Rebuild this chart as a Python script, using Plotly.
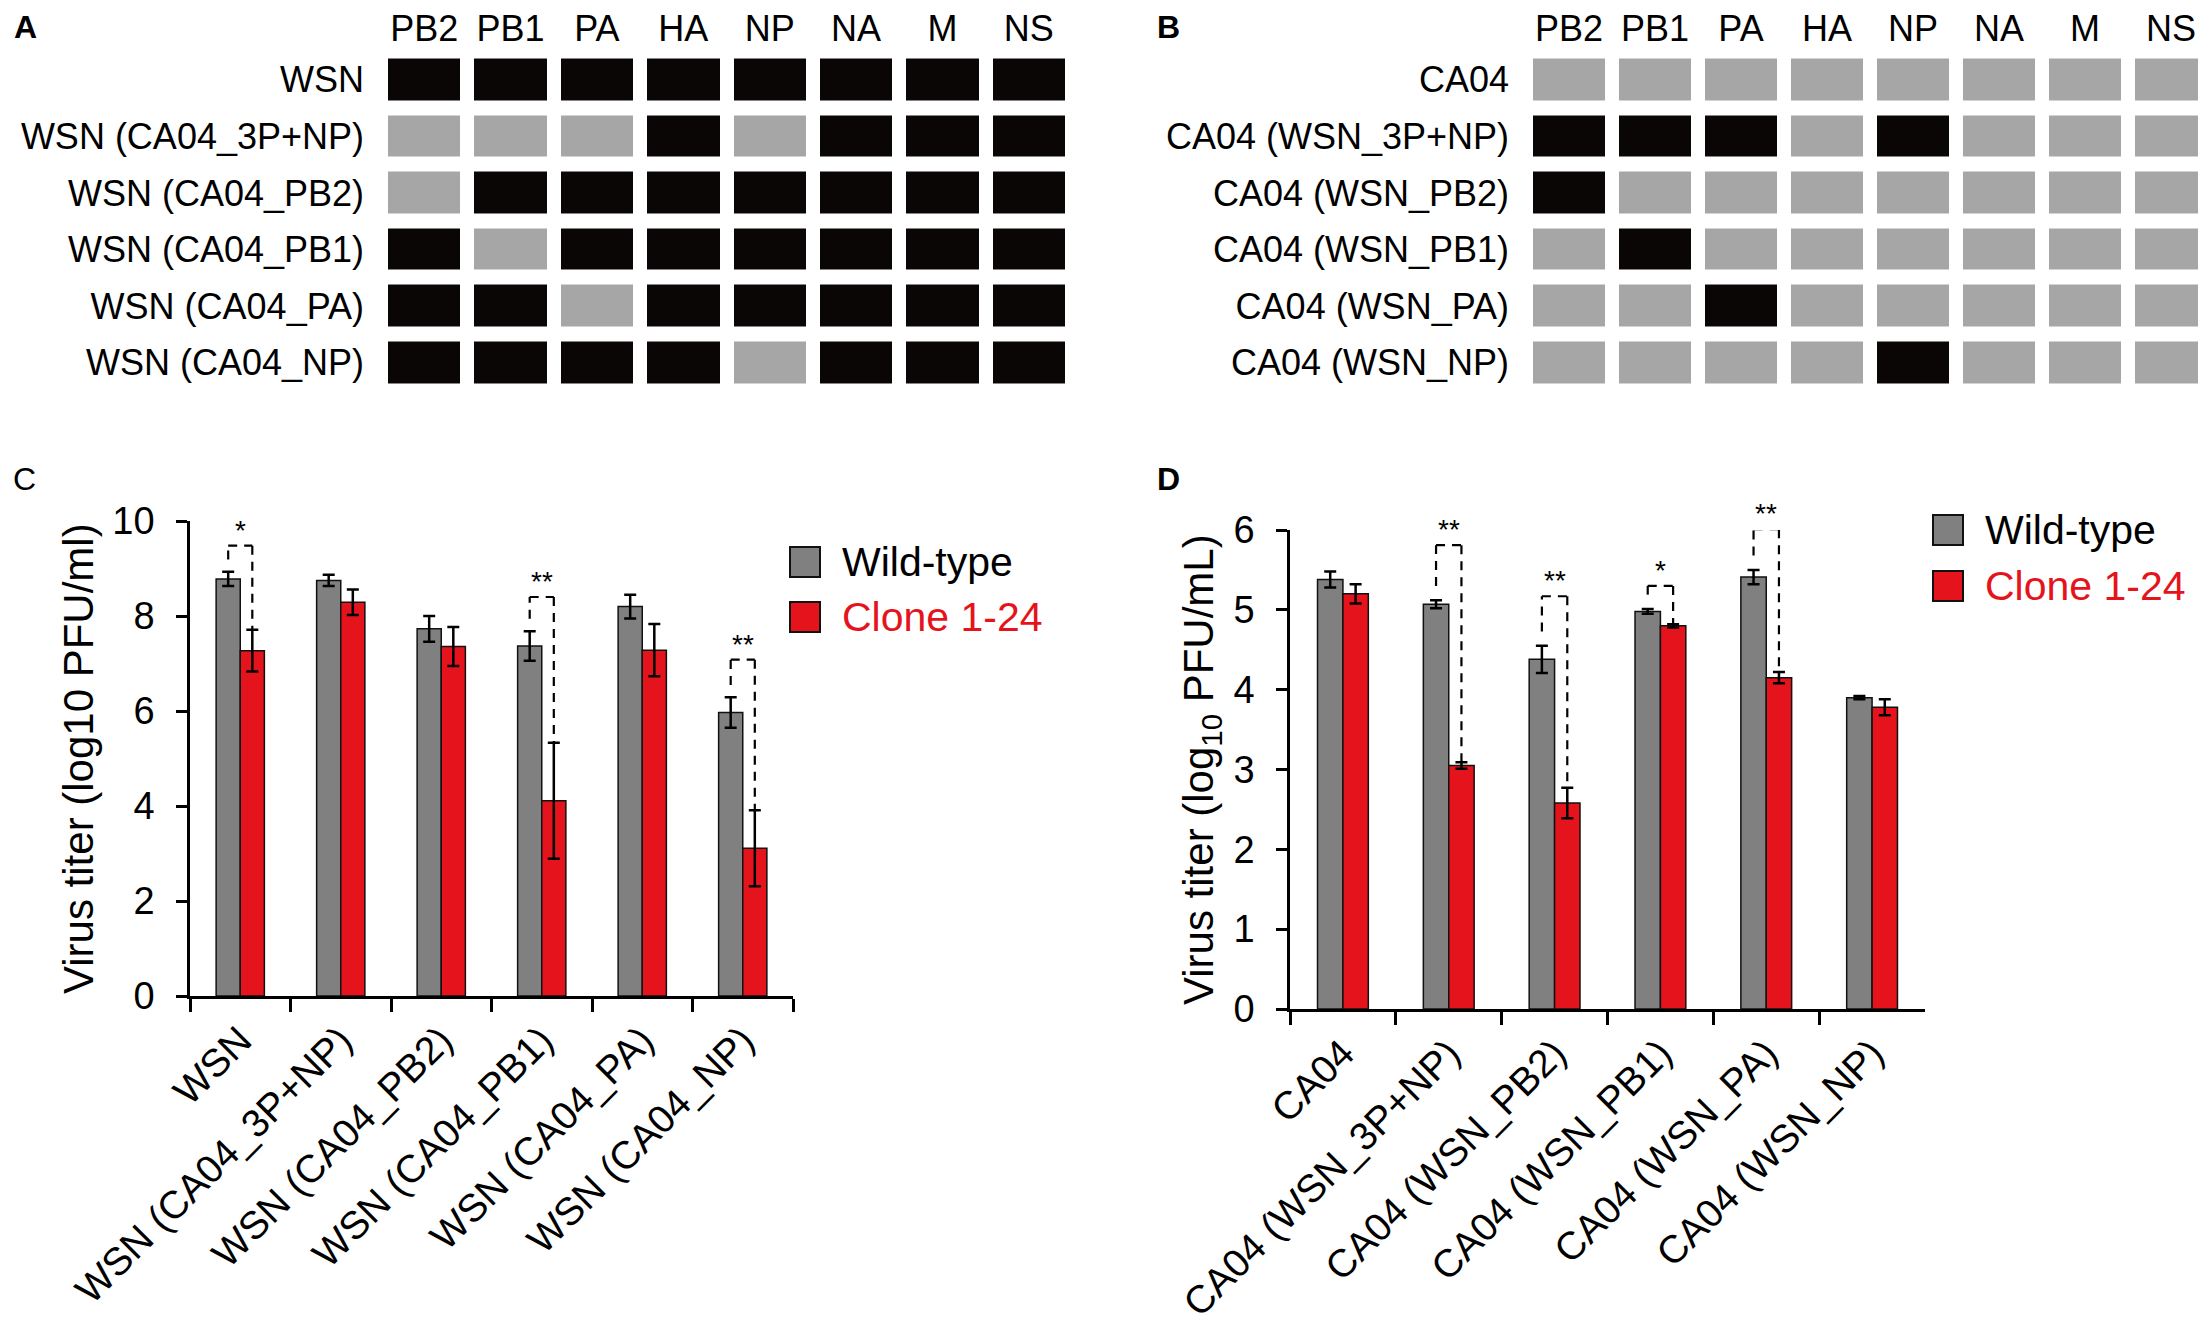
import plotly.graph_objects as go

W, H = 2206, 1337

# ---------------------------
# Data
# ---------------------------
segments = ["PB2", "PB1", "PA", "HA", "NP", "NA", "M", "NS"]

wsn_viruses = ["WSN", "WSN (CA04_3P+NP)", "WSN (CA04_PB2)",
               "WSN (CA04_PB1)", "WSN (CA04_PA)", "WSN (CA04_NP)"]
ca04_viruses = ["CA04", "CA04 (WSN_3P+NP)", "CA04 (WSN_PB2)",
                "CA04 (WSN_PB1)", "CA04 (WSN_PA)", "CA04 (WSN_NP)"]

# 1 = WSN-derived segment (black), 0 = CA04-derived segment (grey)
wsn_origin = [
    [1, 1, 1, 1, 1, 1, 1, 1],
    [0, 0, 0, 1, 0, 1, 1, 1],
    [0, 1, 1, 1, 1, 1, 1, 1],
    [1, 0, 1, 1, 1, 1, 1, 1],
    [1, 1, 0, 1, 1, 1, 1, 1],
    [1, 1, 1, 1, 0, 1, 1, 1],
]
ca04_origin = [
    [0, 0, 0, 0, 0, 0, 0, 0],
    [1, 1, 1, 0, 1, 0, 0, 0],
    [1, 0, 0, 0, 0, 0, 0, 0],
    [0, 1, 0, 0, 0, 0, 0, 0],
    [0, 0, 1, 0, 0, 0, 0, 0],
    [0, 0, 0, 0, 1, 0, 0, 0],
]

# virus titers, log10 PFU/ml
wsn_wt = [8.78, 8.75, 7.73, 7.37, 8.20, 5.97]
wsn_wt_err = [0.15, 0.12, 0.27, 0.31, 0.25, 0.32]
wsn_clone = [7.27, 8.29, 7.36, 4.11, 7.28, 3.11]
wsn_clone_err = [0.44, 0.27, 0.41, 1.22, 0.55, 0.80]

ca04_wt = [5.38, 5.07, 4.38, 4.98, 5.41, 3.90]
ca04_wt_err = [0.10, 0.05, 0.17, 0.03, 0.09, 0.02]
ca04_clone = [5.20, 3.05, 2.58, 4.80, 4.15, 3.78]
ca04_clone_err = [0.12, 0.04, 0.19, 0.02, 0.07, 0.10]

# significance brackets: group index, label, bracket height
wsn_sig_idx = [0, 3, 5]
wsn_sig_text = ["*", "**", "**"]
wsn_sig_top = [9.48, 8.40, 7.08]

ca04_sig_idx = [1, 2, 3, 4]
ca04_sig_text = ["**", "**", "*", "**"]
ca04_sig_top = [5.81, 5.17, 5.30, 6.01]

GREY_BAR = "#808080"
RED = "#e5141c"
BLACK_CELL = "#0b0606"
GREY_CELL = "#a6a6a6"
FONT = "Liberation Sans, Arial, sans-serif"


def px_x(v):
    return v / W


def px_y(v):
    return 1 - v / H


fig = go.Figure()

# ---------------------------
# Panels A and B: genotype grids
# ---------------------------
for z, rows, ax in [(wsn_origin, wsn_viruses, ""), (ca04_origin, ca04_viruses, "2")]:
    fig.add_trace(go.Heatmap(
        z=z, x=segments, y=rows,
        xaxis="x" + ax, yaxis="y" + ax,
        colorscale=[[0, GREY_CELL], [0.5, GREY_CELL], [0.5, BLACK_CELL], [1, BLACK_CELL]],
        zmin=0, zmax=1, showscale=False, xgap=14, ygap=15, hoverinfo="skip",
    ))

grid_y_domain = [px_y(383), px_y(43.5)]
grid_axis = dict(showgrid=False, zeroline=False, showline=False, ticks="", automargin=False,
                 tickfont=dict(family=FONT, size=36, color="black"))
fig.update_layout(
    xaxis=dict(domain=[px_x(373), px_x(1064)], side="top", anchor="y",
               ticklabelstandoff=2, **grid_axis),
    yaxis=dict(domain=grid_y_domain, autorange="reversed", anchor="x",
               ticklabelstandoff=16, **grid_axis),
    xaxis2=dict(domain=[px_x(1518), 1.0], side="top", anchor="y2",
                ticklabelstandoff=2, **grid_axis),
    yaxis2=dict(domain=grid_y_domain, autorange="reversed", anchor="x2",
                ticklabelstandoff=16, **grid_axis),
)

# ---------------------------
# Panels C and D: titers
# ---------------------------
panels = [
    (wsn_viruses, wsn_wt, wsn_wt_err, wsn_clone, wsn_clone_err, "3"),
    (ca04_viruses, ca04_wt, ca04_wt_err, ca04_clone, ca04_clone_err, "4"),
]
for cats, wt, wt_err, cl, cl_err, ax in panels:
    fig.add_trace(go.Bar(
        x=cats, y=wt, name="Wild-type", xaxis="x" + ax, yaxis="y" + ax,
        marker=dict(color=GREY_BAR, line=dict(color="#111111", width=1.5)),
        error_y=dict(type="data", array=wt_err, color="black", thickness=2.5, width=6),
        showlegend=False,
    ))
    fig.add_trace(go.Bar(
        x=cats, y=cl, name="Clone 1-24", xaxis="x" + ax, yaxis="y" + ax,
        marker=dict(color=RED, line=dict(color="#111111", width=1.5)),
        error_y=dict(type="data", array=cl_err, color="black", thickness=2.5, width=6),
        showlegend=False,
    ))

bar_x = dict(showgrid=False, zeroline=False, showline=True, linecolor="black", linewidth=2.5,
             ticks="outside", ticklen=13, tickwidth=2.5, tickcolor="black", automargin=False,
             tickson="boundaries", tickangle=-45, ticklabelstandoff=3,
             tickfont=dict(family=FONT, size=39, color="black"))
bar_y = dict(showgrid=False, zeroline=False, showline=True, linecolor="black", linewidth=2.5,
             ticks="outside", ticklen=11, tickwidth=2.5, tickcolor="black", automargin=False,
             ticklabelstandoff=14,
             tickfont=dict(family=FONT, size=38, color="black"))

# pixel frames of the two bar panels: (left, right, bottom, top, y max)
frame_c = (182, 785, 988, 513, 10)
frame_d = (1282, 1917, 1001, 522, 6)
fig.update_layout(
    barmode="group", bargap=0.52, bargroupgap=0,
    xaxis3=dict(domain=[px_x(frame_c[0]), px_x(frame_c[1])], anchor="y3", **bar_x),
    yaxis3=dict(domain=[px_y(frame_c[2]), px_y(frame_c[3])], anchor="x3", range=[0, 10],
                tickvals=[0, 2, 4, 6, 8, 10], **bar_y),
    xaxis4=dict(domain=[px_x(frame_d[0]), px_x(frame_d[1])], anchor="y4", **bar_x),
    yaxis4=dict(domain=[px_y(frame_d[2]), px_y(frame_d[3])], anchor="x4", range=[0, 6],
                tickvals=[0, 1, 2, 3, 4, 5, 6], **bar_y),
)


def value_to_paper(v, frame):
    bottom, top, ymax = frame[2], frame[3], frame[4]
    return px_y(bottom - v / ymax * (bottom - top))


# significance brackets
half = (1 - 0.52) / 4  # offset of each bar centre from the group centre
shapes = []
annotations = []
for idx_list, texts, tops, wt, wt_err, cl, cl_err, ax, gap, frame in [
    (wsn_sig_idx, wsn_sig_text, wsn_sig_top, wsn_wt, wsn_wt_err, wsn_clone, wsn_clone_err,
     "3", 0.26, frame_c),
    (ca04_sig_idx, ca04_sig_text, ca04_sig_top, ca04_wt, ca04_wt_err, ca04_clone, ca04_clone_err,
     "4", 0.18, frame_d),
]:
    for i, txt, top in zip(idx_list, texts, tops):
        xl, xr = i - half, i + half
        dash = dict(color="black", width=2.2, dash="9px,7px")
        shapes.append(dict(type="line", xref="x" + ax, yref="y" + ax,
                           x0=xl, x1=xl, y0=wt[i] + wt_err[i] + gap, y1=top, line=dash))
        shapes.append(dict(type="line", xref="x" + ax, yref="y" + ax,
                           x0=xl, x1=xr, y0=top, y1=top, line=dash))
        shapes.append(dict(type="line", xref="x" + ax, yref="y" + ax,
                           x0=xr, x1=xr, y0=top, y1=cl[i] + cl_err[i], line=dash))
        annotations.append(dict(x=i, y=value_to_paper(top, frame), xref="x" + ax, yref="paper",
                                text=txt, showarrow=False, yanchor="bottom", yshift=-2,
                                font=dict(family=FONT, size=28, color="black")))

# legends drawn as boxes + text
for x_box, y_top, y_top2 in [(782, 539, 594), (1925, 507, 563)]:
    for yt, color, label, tcol in [(y_top, GREY_BAR, "Wild-type", "black"),
                                   (y_top2, RED, "Clone 1-24", RED)]:
        shapes.append(dict(type="rect", xref="paper", yref="paper",
                           x0=px_x(x_box), x1=px_x(x_box + 30),
                           y0=px_y(yt + 30), y1=px_y(yt),
                           fillcolor=color, line=dict(color="#111111", width=2)))
        annotations.append(dict(x=px_x(x_box + 50), y=px_y(yt + 15), xref="paper", yref="paper",
                                text=label, showarrow=False, xanchor="left", yanchor="middle",
                                font=dict(family=FONT, size=41, color=tcol)))

# y-axis titles
annotations.append(dict(x=px_x(70), y=px_y(751), xref="paper", yref="paper",
                        text="Virus titer (log10 PFU/ml)", textangle=-90, showarrow=False,
                        xanchor="center", yanchor="middle",
                        font=dict(family=FONT, size=42, color="black")))
annotations.append(dict(x=px_x(1193), y=px_y(762), xref="paper", yref="paper",
                        text="Virus titer (log<sub>10</sub> PFU/mL)", textangle=-90, showarrow=False,
                        xanchor="center", yanchor="middle",
                        font=dict(family=FONT, size=42, color="black")))

# panel letters
for letter, x, y, bold in [("A", 4, 19, True), ("B", 1147, 19, True),
                           ("C", 3, 471, False), ("D", 1147, 471, True)]:
    annotations.append(dict(x=px_x(x), y=px_y(y), xref="paper", yref="paper",
                            text=f"<b>{letter}</b>" if bold else letter, showarrow=False,
                            xanchor="left", yanchor="middle",
                            font=dict(family=FONT, size=32, color="black")))

fig.update_layout(
    template="none",
    width=W, height=H,
    margin=dict(l=0, r=0, t=0, b=0),
    paper_bgcolor="white", plot_bgcolor="white",
    shapes=shapes, annotations=annotations,
    showlegend=False,
)

fig.write_html("out.html")
